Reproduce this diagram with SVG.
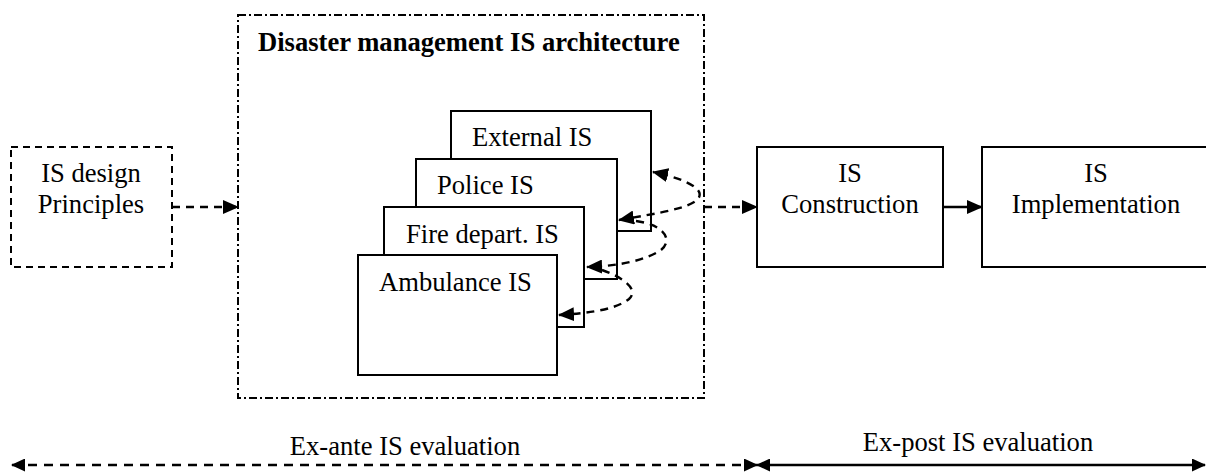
<svg xmlns="http://www.w3.org/2000/svg" width="1206" height="472" viewBox="0 0 1206 472">
<style>
text{font-family:"Liberation Serif","Times New Roman",serif;font-size:26.6px;fill:#000}
.b{font-weight:bold}
.m{text-anchor:middle}
.box{fill:#fff;stroke:#000;stroke-width:2}
.dbox{fill:none;stroke:#000;stroke-width:2;stroke-dasharray:7 5}
.ddbox{fill:none;stroke:#000;stroke-width:2;stroke-dasharray:8 3 2 3}
.dl{fill:none;stroke:#000;stroke-width:2.4;stroke-dasharray:8 6}
.dlb{fill:none;stroke:#000;stroke-width:2.4;stroke-dasharray:9 7}
.sl{fill:none;stroke:#000;stroke-width:2.4}
</style>
<defs>
<marker id="ah" markerUnits="userSpaceOnUse" markerWidth="16" markerHeight="14" viewBox="0 0 16 14" refX="15" refY="7" orient="auto-start-reverse">
<path d="M0,0 L16,7 L0,14 z" fill="#000"/>
</marker>
<marker id="ahs" markerUnits="userSpaceOnUse" markerWidth="14" markerHeight="13" viewBox="0 0 14 13" refX="13" refY="6.5" orient="auto-start-reverse">
<path d="M0,0 L14,6.5 L0,13 z" fill="#000"/>
</marker>
</defs>
<g id="design-principles">
<rect class="dbox" x="11" y="147" width="161" height="120"/>
<text class="m" x="91" y="182">IS design</text>
<text class="m" x="91" y="213">Principles</text>
</g>
<g id="architecture">
<rect class="ddbox" x="238" y="15" width="466" height="383"/>
<text class="b" x="258" y="51">Disaster management IS architecture</text>
</g>
<g id="external-is">
<rect class="box" x="451" y="111" width="200" height="120"/>
<text x="472" y="146">External IS</text>
</g>
<g id="police-is">
<rect class="box" x="416" y="159" width="201" height="120"/>
<text x="437" y="194">Police IS</text>
</g>
<g id="fire-is">
<rect class="box" x="384" y="207" width="200" height="120"/>
<text x="406" y="243">Fire depart. IS</text>
</g>
<g id="ambulance-is">
<rect class="box" x="358" y="255" width="199" height="120"/>
<text x="379" y="291">Ambulance IS</text>
</g>
<g id="construction">
<rect class="box" x="757" y="147" width="186" height="120"/>
<text class="m" x="850" y="182">IS</text>
<text class="m" x="850" y="213">Construction</text>
</g>
<g id="implementation">
<rect class="box" x="982" y="147" width="240" height="120"/>
<text class="m" x="1096" y="182">IS</text>
<text class="m" x="1096" y="213">Implementation</text>
</g>
<g id="connectors">
<path class="dl" d="M172,207 H238" marker-end="url(#ah)"/>
<path class="dl" d="M704,207 H757" marker-end="url(#ah)"/>
<path class="sl" d="M943,207 H982" marker-end="url(#ah)"/>
<path class="dl" d="M619,220 C660,213 690,208 698,199 C705,190 690,180 653,172" marker-start="url(#ah)" marker-end="url(#ah)"/>
<path class="dl" d="M636,221 C665,225 673,240 661,250 C646,260 620,266 587,267" marker-end="url(#ah)"/>
<path class="dl" d="M602,270 C625,278 639,290 629,299 C618,308 595,313 559,315" marker-end="url(#ah)"/>
<path class="dlb" d="M12,465 H757" marker-start="url(#ahs)" marker-end="url(#ahs)"/>
<path class="sl" d="M757,465 H1205" marker-start="url(#ahs)" marker-end="url(#ahs)"/>
</g>
<g id="labels">
<text class="m" x="405" y="455">Ex-ante IS evaluation</text>
<text class="m" x="978" y="451">Ex-post IS evaluation</text>
</g>
</svg>
